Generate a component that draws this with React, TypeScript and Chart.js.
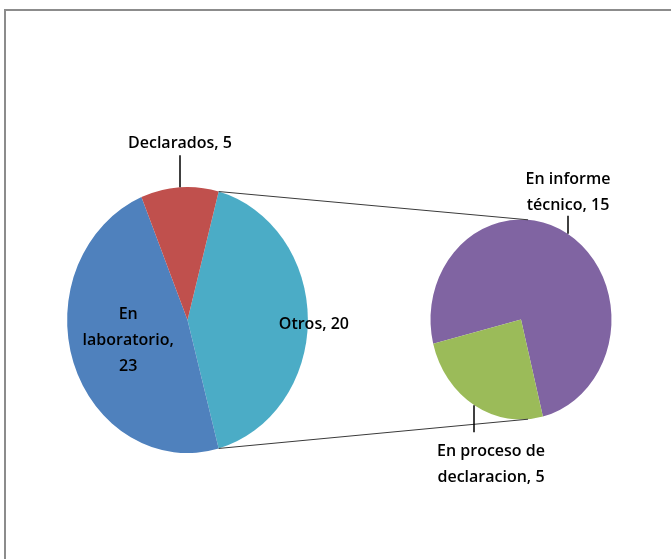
import React, { useEffect, useRef } from "react";
import { Chart, registerables } from "chart.js";

Chart.register(...registerables);

// ---- data ----
const mainCategories = ["Otros", "En laboratorio", "Declarados"];
const mainValues = [20, 23, 5];
const mainColors = ["#4BACC6", "#4F81BD", "#C0504D"];

const subCategories = ["En informe técnico", "En proceso de declaracion"];
const subValues = [15, 5];
const subColors = ["#8064A2", "#9BBB59"];

// ---- layout / style ----
const W = 671;
const H = 559;
const SX = 0.905; // horizontal squash of the pies (reference is stretched)
const FONT = '600 16px "Open Sans", "Liberation Sans", sans-serif';
const LINE_H = 26;
const CAP_H = 11.5;

type Spec =
  | { mode: "inside"; f: number; dy: number; maxW: number }
  | { mode: "up" | "down"; len: number; gap: number; dx: number; maxW: number };

const mainLabelLayout: Spec[] = [
  { mode: "inside", f: 1.05, dy: 3, maxW: 220 },
  { mode: "inside", f: 0.52, dy: -3, maxW: 112 },
  { mode: "up", len: 32, gap: 7, dx: 0, maxW: 220 },
];
const subLabelLayout: Spec[] = [
  { mode: "up", len: 18, gap: 6, dx: 0, maxW: 100 },
  { mode: "down", len: 27, gap: 12, dx: 17, maxW: 125 },
];

function pt(el: any, a: number, k: number) {
  return {
    x: el.x + SX * el.outerRadius * k * Math.cos(a),
    y: el.y + el.outerRadius * k * Math.sin(a),
  };
}

function wrap(ctx: CanvasRenderingContext2D, text: string, maxW: number) {
  const words = text.split(" ");
  const lines: string[] = [];
  let cur = "";
  for (const w of words) {
    const t = cur ? cur + " " + w : w;
    if (cur && ctx.measureText(t).width > maxW) {
      lines.push(cur);
      cur = w;
    } else cur = t;
  }
  if (cur) lines.push(cur);
  return lines;
}

function drawLabels(chart: any, cats: string[], vals: number[], layout: Spec[]) {
  const ctx: CanvasRenderingContext2D = chart.ctx;
  const meta = chart.getDatasetMeta(0);
  ctx.save();
  ctx.font = FONT;
  ctx.fillStyle = "#000";
  ctx.textAlign = "center";
  ctx.textBaseline = "alphabetic";
  meta.data.forEach((el: any, i: number) => {
    const spec = layout[i];
    const mid = (el.startAngle + el.endAngle) / 2;
    const lines = wrap(ctx, `${cats[i]}, ${vals[i]}`, spec.maxW);
    if (spec.mode === "inside") {
      const p = pt(el, mid, spec.f);
      const blockH = (lines.length - 1) * LINE_H + CAP_H;
      const top = p.y + spec.dy - blockH / 2;
      lines.forEach((ln, j) => ctx.fillText(ln, p.x, top + CAP_H + j * LINE_H));
    } else {
      const p = pt(el, mid, 1);
      const lx = Math.round(p.x);
      const dir = spec.mode === "up" ? -1 : 1;
      const end = p.y + dir * spec.len;
      ctx.strokeStyle = "#000";
      ctx.lineWidth = 1.5;
      ctx.beginPath();
      ctx.moveTo(lx, p.y);
      ctx.lineTo(lx, end);
      ctx.stroke();
      let first: number;
      if (spec.mode === "up") {
        const last = end - spec.gap;
        first = last - (lines.length - 1) * LINE_H;
      } else {
        first = end + spec.gap + CAP_H;
      }
      lines.forEach((ln, j) => ctx.fillText(ln, lx + spec.dx, first + j * LINE_H));
    }
  });
  ctx.restore();
}

const squashPlugin = {
  id: "squash",
  beforeDatasetsDraw(chart: any) {
    const el = chart.getDatasetMeta(0).data[0];
    const ctx = chart.ctx;
    ctx.save();
    ctx.translate(el.x, 0);
    ctx.scale(SX, 1);
    ctx.translate(-el.x, 0);
  },
  afterDatasetsDraw(chart: any) {
    chart.ctx.restore();
  },
};

export default function App() {
  const mainRef = useRef<HTMLCanvasElement>(null);
  const subRef = useRef<HTMLCanvasElement>(null);

  useEffect(() => {
    if (!mainRef.current || !subRef.current) return;

    const mainChart = new Chart(mainRef.current, {
      type: "pie",
      data: {
        labels: mainCategories,
        datasets: [
          {
            data: mainValues,
            backgroundColor: mainColors,
            borderWidth: 0,
            rotation: 15,
          } as any,
        ],
      },
      options: {
        responsive: false,
        animation: false,
        devicePixelRatio: 1,
        events: [],
        layout: { padding: { left: 54.5, right: 350.5, top: 187, bottom: 106 } },
        plugins: { legend: { display: false }, tooltip: { enabled: false } },
      },
      plugins: [
        squashPlugin,
        {
          id: "mainLabels",
          afterDraw(chart: any) {
            drawLabels(chart, mainCategories, mainValues, mainLabelLayout);
          },
        },
      ],
    });

    const subChart = new Chart(subRef.current, {
      type: "pie",
      data: {
        labels: subCategories,
        datasets: [
          {
            data: subValues,
            backgroundColor: subColors,
            borderWidth: 0,
            rotation: 256,
          } as any,
        ],
      },
      options: {
        responsive: false,
        animation: false,
        devicePixelRatio: 1,
        events: [],
        layout: { padding: { left: 421, right: 50, top: 219.5, bottom: 139.5 } },
        plugins: { legend: { display: false }, tooltip: { enabled: false } },
      },
      plugins: [
        squashPlugin,
        {
          id: "connectors",
          afterDraw(chart: any) {
            const m: any = mainChart.getDatasetMeta(0).data[0];
            const s: any = chart.getDatasetMeta(0).data[0];
            if (!m || !s) return;
            const ctx: CanvasRenderingContext2D = chart.ctx;
            const off = 0.078;
            const a1 = pt(m, m.startAngle, 1);
            const a2 = pt(m, m.endAngle, 1);
            const b1 = pt(s, -Math.PI / 2 + off, 1);
            const b2 = pt(s, Math.PI / 2 - off, 1);
            ctx.save();
            ctx.strokeStyle = "#3a3a3a";
            ctx.lineWidth = 1;
            ctx.beginPath();
            ctx.moveTo(a1.x, a1.y);
            ctx.lineTo(b1.x, b1.y);
            ctx.moveTo(a2.x, a2.y);
            ctx.lineTo(b2.x, b2.y);
            ctx.stroke();
            ctx.restore();
          },
        },
        {
          id: "subLabels",
          afterDraw(chart: any) {
            drawLabels(chart, subCategories, subValues, subLabelLayout);
          },
        },
      ],
    });

    return () => {
      subChart.destroy();
      mainChart.destroy();
    };
  }, []);

  const canvasStyle: React.CSSProperties = {
    position: "absolute",
    left: 0,
    top: 0,
    width: W,
    height: H,
  };

  return (
    <div
      style={{
        position: "fixed",
        left: 0,
        top: 0,
        width: W,
        height: H,
        background: "#fff",
        overflow: "hidden",
      }}
    >
      <div
        style={{
          position: "absolute",
          left: 4,
          top: 9,
          width: W + 20,
          height: H + 20,
          borderTop: "2px solid #8c8c8c",
          borderLeft: "2px solid #8c8c8c",
          boxSizing: "border-box",
        }}
      />
      <canvas ref={mainRef} width={W} height={H} style={canvasStyle} />
      <canvas ref={subRef} width={W} height={H} style={canvasStyle} />
    </div>
  );
}
